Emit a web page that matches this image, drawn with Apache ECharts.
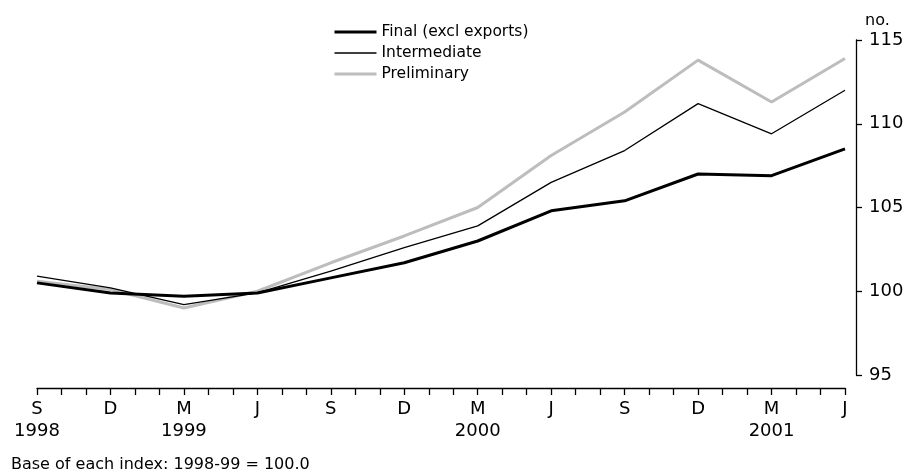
<!DOCTYPE html>
<html>
<head>
<meta charset="utf-8">
<script src="https://cdn.jsdelivr.net/npm/echarts@6/dist/echarts.min.js"></script>
<style>
html,body{margin:0;padding:0;background:#fff;}
#chart{width:916px;height:474px;}
</style>
</head>
<body>
<div id="chart"></div>
<script>
// Quarter labels (Sep 1998 .. Jun 2001)
var quarterLabels = ['S','D','M','J','S','D','M','J','S','D','M','J'];
var yearLabels = ['1998','','1999','','','','2000','','','','2001',''];
// Index values
var finalValues        = [100.5, 99.9, 99.7, 99.9, 100.8, 101.7, 103.0, 104.8, 105.4, 107.0, 106.9, 108.5];
var intermediateValues = [100.9, 100.2, 99.2, 99.9, 101.2, 102.6, 103.9, 106.5, 108.4, 111.2, 109.4, 112.0];
var preliminaryValues  = [100.6, 100.1, 99.0, 100.0, 101.7, 103.3, 105.0, 108.1, 110.7, 113.8, 111.3, 113.9];
var seriesNames = ['Final (excl exports)', 'Intermediate', 'Preliminary'];
var yTicks = {min: 95, max: 115, step: 5};
var monthsPerQuarter = 3;

function toPoints(vals) {
  return vals.map(function (v, i) { return [i * monthsPerQuarter, v]; });
}

var FONT = 'DejaVu Sans';
var styles = [
  {color: '#000000', width: 3},
  {color: '#000000', width: 1.3},
  {color: '#bdbdbd', width: 3}
];
var chart = echarts.init(document.getElementById('chart'), null, {renderer: 'canvas'});
chart.setOption({
  animation: false,
  backgroundColor: '#ffffff',
  textStyle: {fontFamily: FONT, color: '#000'},
  grid: {left: 37, right: 71, top: 40, bottom: 99, containLabel: false},
  legend: {
    orient: 'vertical',
    left: 328,
    top: 19,
    itemWidth: 42,
    itemHeight: 14,
    itemGap: 5,
    itemStyle: {opacity: 0, borderWidth: 0},
    textStyle: {fontFamily: FONT, fontSize: 15.5, color: '#000'},
    data: seriesNames.map(function (n, i) {
      return {name: n, lineStyle: {color: styles[i].color, width: styles[i].width}, itemStyle: {opacity: 0}};
    })
  },
  xAxis: {
    type: 'value',
    min: 0,
    max: (quarterLabels.length - 1) * monthsPerQuarter,
    interval: 1,
    offset: 13,
    axisLine: {show: true, onZero: false, lineStyle: {color: '#000', width: 1.3}},
    axisTick: {show: true, length: 7, lineStyle: {color: '#000', width: 1.3}},
    splitLine: {show: false},
    axisLabel: {
      margin: 10,
      fontFamily: FONT,
      fontSize: 18,
      lineHeight: 22,
      color: '#000',
      showMinLabel: true,
      showMaxLabel: true,
      formatter: function (v) {
        if (v % monthsPerQuarter !== 0) return '';
        var i = v / monthsPerQuarter;
        var q = quarterLabels[i] || '';
        var y = yearLabels[i];
        return y ? q + '\n' + y : q;
      }
    }
  },
  yAxis: {
    type: 'value',
    position: 'right',
    offset: 11,
    min: yTicks.min,
    max: yTicks.max,
    interval: yTicks.step,
    axisLine: {show: true, onZero: false, lineStyle: {color: '#000', width: 1.3}},
    axisTick: {show: true, length: 6, lineStyle: {color: '#000', width: 1.3}},
    splitLine: {show: false},
    axisLabel: {margin: 13, fontFamily: FONT, fontSize: 18, color: '#000'},
    name: 'no.',
    nameLocation: 'end',
    nameGap: 11,
    nameTextStyle: {fontFamily: FONT, fontSize: 16, color: '#000', align: 'left', padding: [0, 0, 0, 9]}
  },
  series: seriesNames.map(function (n, i) {
    var vals = [finalValues, intermediateValues, preliminaryValues][i];
    return {
      name: n, type: 'line', data: toPoints(vals), symbol: 'none', z: 5 - i,
      lineStyle: {color: styles[i].color, width: styles[i].width},
      itemStyle: {color: styles[i].color}
    };
  }),
  graphic: [{
    type: 'text',
    left: 11,
    top: 457,
    style: {text: 'Base of each index: 1998-99 = 100.0', font: '16px "DejaVu Sans"', fill: '#000'}
  }]
});
</script>
</body>
</html>
